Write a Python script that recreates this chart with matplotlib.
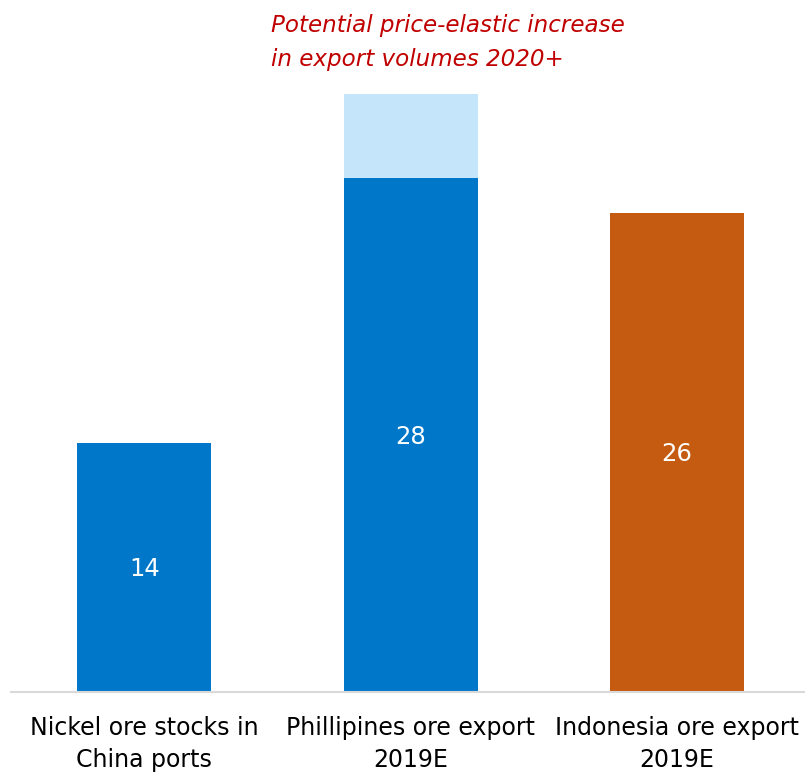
import matplotlib
matplotlib.use("Agg")
import matplotlib.pyplot as plt

categories = ["Nickel ore stocks in\nChina ports", "Phillipines ore export\n2019E", "Indonesia ore export\n2019E"]
base_values = [14.0, 28.9, 26.9]
value_labels = ["14", "28", "26"]
extra_values = [0.0, 4.7, 0.0]
base_colors = ["#0077C8", "#0077C8", "#C55A11"]
extra_color = "#C5E5FB"
annotation = "Potential price-elastic increase\nin export volumes 2020+"

fig = plt.figure(figsize=(8.05, 7.74), dpi=100)
ax = fig.add_axes([11/805, 82/774, 794/805, 692/774])
x = list(range(len(categories)))
ax.bar(x, base_values, width=0.503, color=base_colors, zorder=2)
ax.bar(x, extra_values, width=0.503, bottom=base_values, color=extra_color, zorder=2)
for xi, v, lab in zip(x, base_values, value_labels):
    ax.text(xi, v / 2 - 0.1, lab, ha="center", va="center", color="white", fontsize=17.5,
            family="DejaVu Sans")
ax.set_xlim(-0.5, 2.48)
ax.set_ylim(0, 692/17.8)
for s in ["top", "right", "left"]:
    ax.spines[s].set_visible(False)
ax.spines["bottom"].set_color("#D9D9D9")
ax.spines["bottom"].set_linewidth(1.5)
ax.set_yticks([])
ax.set_xticks(x)
ax.set_xticklabels(categories, fontsize=17, family="DejaVu Sans", linespacing=1.42)
ax.tick_params(axis="x", length=0, pad=17)
fig.text(271/805, 1 - 14/774, annotation, ha="left", va="top", color="#C00000", fontsize=16.6,
         style="italic", family="DejaVu Sans", linespacing=1.6)
fig.savefig("out.png", dpi=100)
